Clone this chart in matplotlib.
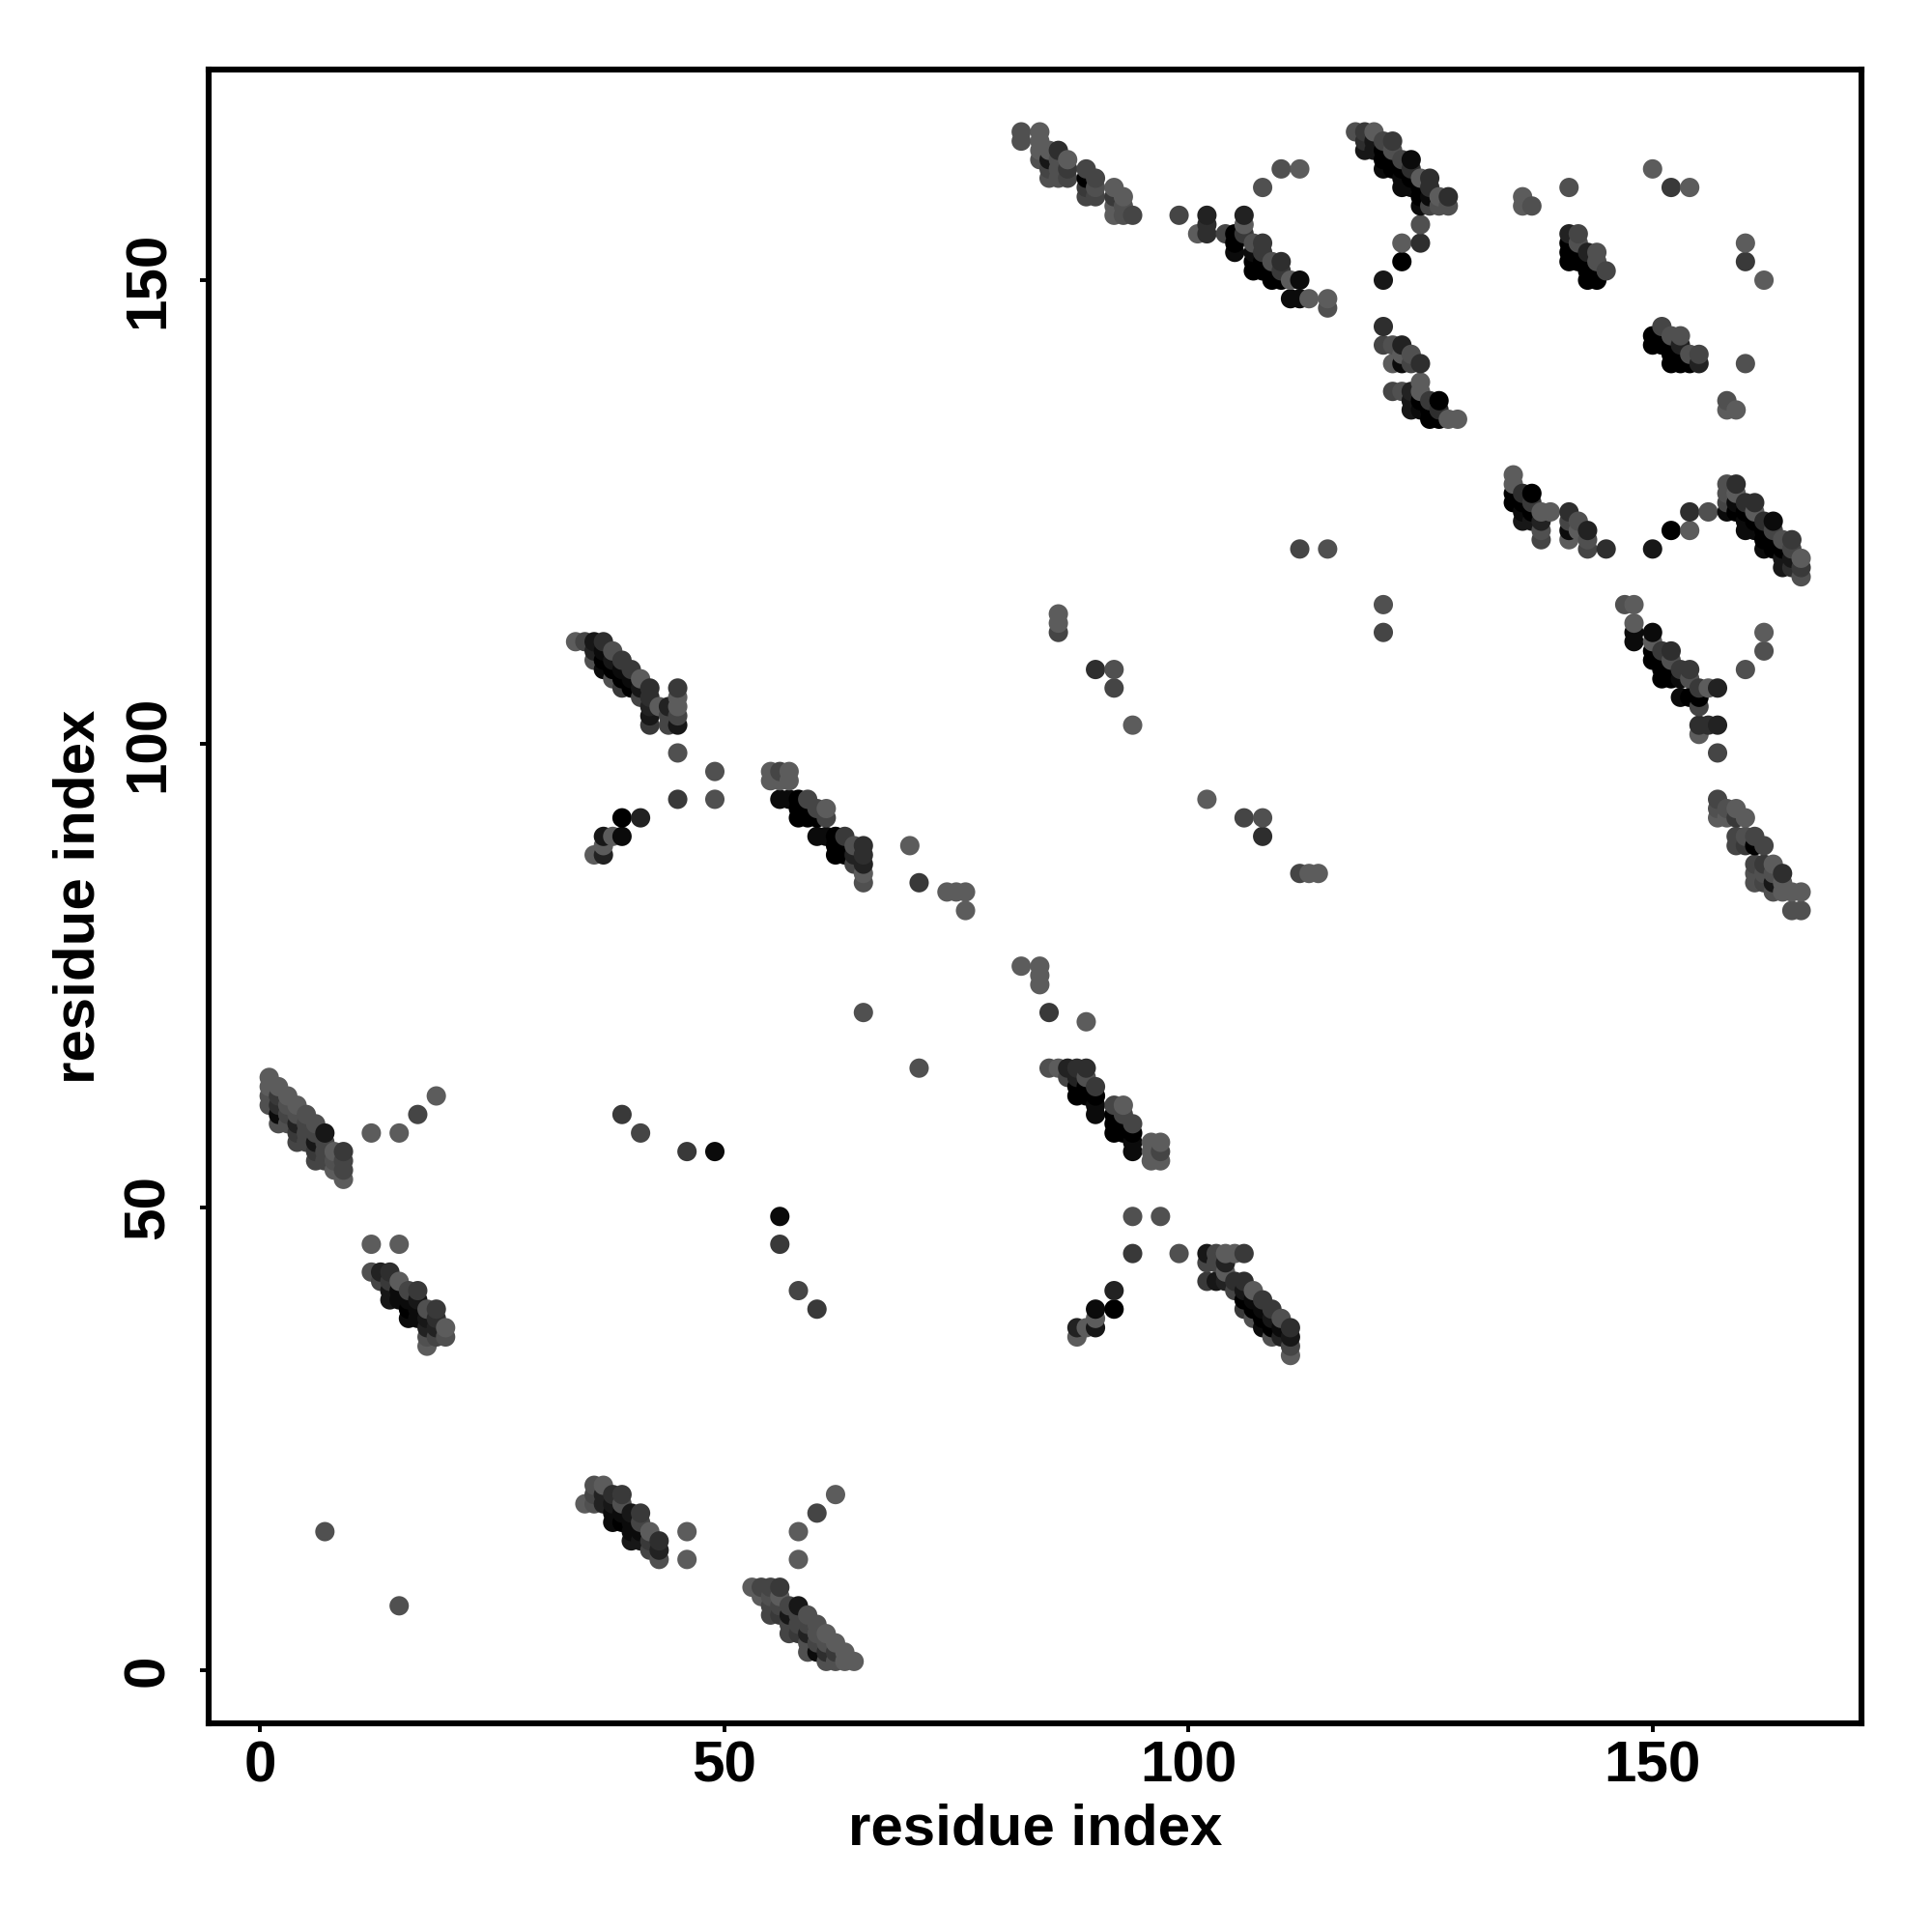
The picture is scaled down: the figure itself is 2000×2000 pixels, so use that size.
#!/usr/bin/python3

import numpy as np
import matplotlib
matplotlib.use("Agg")
import matplotlib.pyplot as plt

plt.rcParams['font.family'] = ['Liberation Sans', 'DejaVu Sans']

# contacts are (i, j, strength), strength 0 (weak, light grey) .. 9 (strong, black)
# only i < j is listed, the map is symmetric
pair_a = [
    (1, 64, 1), (1, 63, 1), (1, 62, 2), (1, 61, 2),
    (2, 63, 1), (2, 62, 4), (2, 61, 5), (2, 60, 8), (2, 59, 2),
    (3, 62, 1), (3, 61, 2), (3, 60, 3), (3, 59, 2),
    (4, 61, 1), (4, 60, 2), (4, 59, 6), (4, 58, 4), (4, 57, 3),
    (5, 60, 2), (5, 59, 3), (5, 58, 3), (5, 57, 3),
    (6, 59, 2), (6, 58, 3), (6, 57, 7), (6, 56, 4), (6, 55, 3),
    (7, 58, 7), (7, 57, 3), (7, 56, 3), (7, 55, 3),
    (8, 56, 1), (8, 55, 2), (8, 54, 1),
    (9, 56, 4), (9, 55, 3), (9, 54, 3), (9, 53, 1),
    (12, 58, 1), (15, 58, 1), (17, 60, 3), (19, 62, 1),
]
pair_b = [
    (7, 15, 2), (12, 46, 1), (15, 46, 1),
    (12, 43, 2), (13, 43, 6), (13, 42, 3), (14, 43, 5), (14, 42, 4), (14, 41, 7), (14, 40, 7),
    (15, 42, 1), (15, 41, 8), (15, 40, 8),
    (16, 41, 3), (16, 40, 8), (16, 39, 9), (16, 38, 8),
    (17, 41, 4), (17, 40, 7), (17, 39, 8), (17, 38, 8),
    (18, 39, 2), (18, 38, 7), (18, 37, 6), (18, 36, 2), (18, 35, 1),
    (19, 39, 4), (19, 38, 5), (19, 37, 6), (19, 36, 3),
    (20, 37, 1), (20, 36, 2),
]
pair_c = [
    (34, 111, 1), (35, 111, 3), (36, 111, 7), (37, 111, 5),
    (36, 110, 6), (36, 109, 2), (37, 110, 8), (37, 109, 9), (37, 108, 8),
    (38, 110, 2), (38, 109, 7), (38, 108, 9), (38, 107, 2),
    (39, 109, 4), (39, 108, 8), (39, 107, 9), (39, 106, 4),
    (40, 108, 4), (40, 107, 8), (40, 106, 9),
    (41, 107, 1), (41, 106, 7), (41, 105, 3),
    (42, 106, 5), (42, 105, 5), (42, 104, 6), (42, 103, 7), (42, 102, 4),
    (43, 104, 1), (44, 104, 6), (44, 103, 3), (44, 102, 3),
    (45, 106, 4), (45, 105, 1), (45, 104, 1), (45, 103, 3), (45, 102, 7),
    (45, 99, 2), (49, 97, 2), (45, 94, 4), (49, 94, 2),
    (39, 92, 9), (41, 92, 6), (37, 90, 7), (38, 90, 1), (39, 90, 8),
    (37, 89, 1), (36, 88, 1), (37, 88, 6),
    (46, 56, 4), (49, 56, 8), (41, 58, 3), (39, 60, 4),
]
pair_d = [
    (55, 97, 1), (55, 96, 1), (56, 97, 3), (56, 96, 1), (57, 97, 1), (57, 96, 1),
    (56, 94, 8), (57, 94, 8), (58, 94, 9), (58, 93, 9), (58, 92, 9),
    (59, 94, 3), (59, 93, 9), (59, 92, 9), (60, 93, 3), (60, 92, 9),
    (61, 93, 1), (61, 92, 3),
    (60, 90, 8), (61, 90, 8), (62, 90, 9), (62, 89, 9), (62, 88, 9),
    (63, 90, 4), (63, 89, 9), (63, 88, 9),
    (64, 89, 2), (64, 88, 6), (64, 87, 3),
    (65, 89, 5), (65, 88, 5), (65, 87, 6), (65, 86, 1), (65, 85, 2),
    (65, 71, 2), (70, 89, 1), (71, 85, 4),
    (74, 84, 1), (75, 84, 1), (76, 84, 1), (76, 82, 1),
    (86, 114, 1), (86, 113, 1), (86, 112, 3),
    (90, 108, 5), (92, 108, 2), (92, 106, 3), (94, 102, 1),
]
pair_e = [
    (82, 166, 2), (82, 165, 2), (84, 166, 1), (84, 165, 1), (84, 164, 1), (84, 163, 2),
    (85, 164, 1), (85, 163, 7), (85, 162, 3), (85, 161, 2),
    (86, 164, 5), (86, 163, 2), (86, 162, 2), (86, 161, 2),
    (87, 163, 1), (87, 162, 4), (87, 161, 3),
    (89, 162, 3), (89, 161, 9), (89, 160, 4), (89, 159, 3),
    (90, 161, 3), (90, 160, 2), (90, 159, 3),
    (92, 160, 1), (92, 159, 4), (92, 158, 1), (92, 157, 1),
    (93, 159, 1), (93, 158, 2), (93, 157, 2), (94, 157, 3),
]
pair_f = [
    (99, 157, 3), (102, 157, 6), (102, 156, 5), (102, 155, 5), (101, 155, 1),
    (104, 155, 3), (106, 157, 6), (106, 156, 1), (106, 155, 4),
    (105, 155, 9), (105, 154, 9), (105, 153, 8),
    (107, 154, 2), (107, 153, 8), (107, 152, 9), (107, 151, 9),
    (108, 154, 4), (108, 153, 4), (108, 152, 9), (108, 151, 9),
    (109, 152, 2), (109, 151, 9), (109, 150, 9),
    (110, 152, 5), (110, 151, 4), (110, 150, 9),
    (111, 150, 1), (112, 150, 8), (111, 148, 8), (112, 148, 8), (113, 148, 1),
    (115, 148, 1), (115, 147, 2),
    (108, 160, 2), (110, 162, 2), (112, 162, 1), (112, 121, 3), (115, 121, 2),
]
pair_g = [
    (118, 166, 2), (119, 166, 4), (120, 166, 1),
    (119, 165, 5), (119, 164, 7), (120, 165, 7), (120, 164, 7),
    (121, 165, 3), (121, 164, 9), (121, 163, 9), (121, 162, 8),
    (122, 165, 4), (122, 164, 2), (122, 163, 9), (122, 162, 9),
    (123, 163, 3), (123, 162, 9), (123, 161, 8), (123, 160, 8),
    (124, 163, 8), (124, 162, 5), (124, 161, 9), (124, 160, 8),
    (125, 161, 1), (125, 160, 9), (125, 159, 9), (125, 158, 8),
    (126, 161, 5), (126, 160, 5), (126, 159, 8), (126, 158, 3),
    (127, 159, 1), (127, 158, 2), (128, 159, 5), (128, 158, 2),
    (125, 156, 2), (125, 154, 5), (123, 154, 1), (123, 152, 9), (121, 150, 7),
]
pair_h = [
    (121, 145, 5), (121, 143, 3), (122, 143, 2), (123, 143, 6),
    (122, 141, 1), (123, 142, 1), (123, 141, 8), (124, 142, 2), (124, 141, 3), (125, 141, 5),
    (122, 138, 3), (123, 138, 2), (124, 138, 6), (124, 137, 7), (124, 136, 7),
    (125, 139, 1), (125, 138, 1), (125, 137, 9), (125, 136, 8),
    (126, 137, 4), (126, 136, 9), (126, 135, 9),
    (127, 137, 9), (127, 136, 5), (127, 135, 9),
    (128, 135, 1), (129, 135, 1),
]
pair_i = [
    (136, 159, 1), (136, 158, 1), (137, 158, 2), (141, 160, 2),
    (150, 162, 1), (152, 160, 4), (154, 160, 1),
    (141, 155, 6), (141, 154, 9), (141, 153, 9), (141, 152, 9),
    (142, 155, 3), (142, 154, 2), (142, 153, 9), (142, 152, 9),
    (143, 153, 6), (143, 152, 9), (143, 151, 9), (143, 150, 9),
    (144, 153, 2), (144, 152, 2), (144, 151, 9), (144, 150, 9),
    (145, 151, 3),
]

x_ticks = [0, 50, 100, 150]
y_ticks = [0, 50, 100, 150]
axis_title = "residue index"

contacts = np.array(pair_a + pair_b + pair_c + pair_d + pair_e + pair_f + pair_g + pair_h + pair_i)


def main():
    i = np.concatenate((contacts[:, 0], contacts[:, 1]))
    j = np.concatenate((contacts[:, 1], contacts[:, 0]))
    strength = np.concatenate((contacts[:, 2], contacts[:, 2]))

    # opaque points, later columns sit on top of earlier ones
    order = np.lexsort((j, i))
    grey = (9 - strength[order]) * 0.045
    colors = np.column_stack((grey, grey, grey))

    fig = plt.figure(figsize=(10, 10), dpi=200)
    ax = fig.add_axes([216 / 2000, 1 - 1784 / 2000, 1711 / 2000, 1712 / 2000])
    ax.scatter(i[order], j[order], s=52, c=colors, linewidths=0, clip_on=True)

    ax.set_xlim(-5.52, 172.5)
    ax.set_ylim(-5.68, 172.72)
    ax.set_xticks(x_ticks)
    ax.set_yticks(y_ticks)
    ax.tick_params(length=3.4, width=1.4, labelsize=21.7, pad=3)
    ax.tick_params(axis='y', labelrotation=90, pad=9)
    for label in ax.get_yticklabels():
        label.set_va('center')
    for label in ax.get_xticklabels() + ax.get_yticklabels():
        label.set_fontweight('bold')
    for spine in ax.spines.values():
        spine.set_linewidth(2.2)

    ax.set_xlabel(axis_title, fontsize=21.6, fontweight='bold', labelpad=3.6)
    ax.set_ylabel(axis_title, fontsize=21.6, fontweight='bold', labelpad=6)

    fig.savefig("out.png", dpi=200, facecolor='white')


if __name__ == '__main__':
    main()
